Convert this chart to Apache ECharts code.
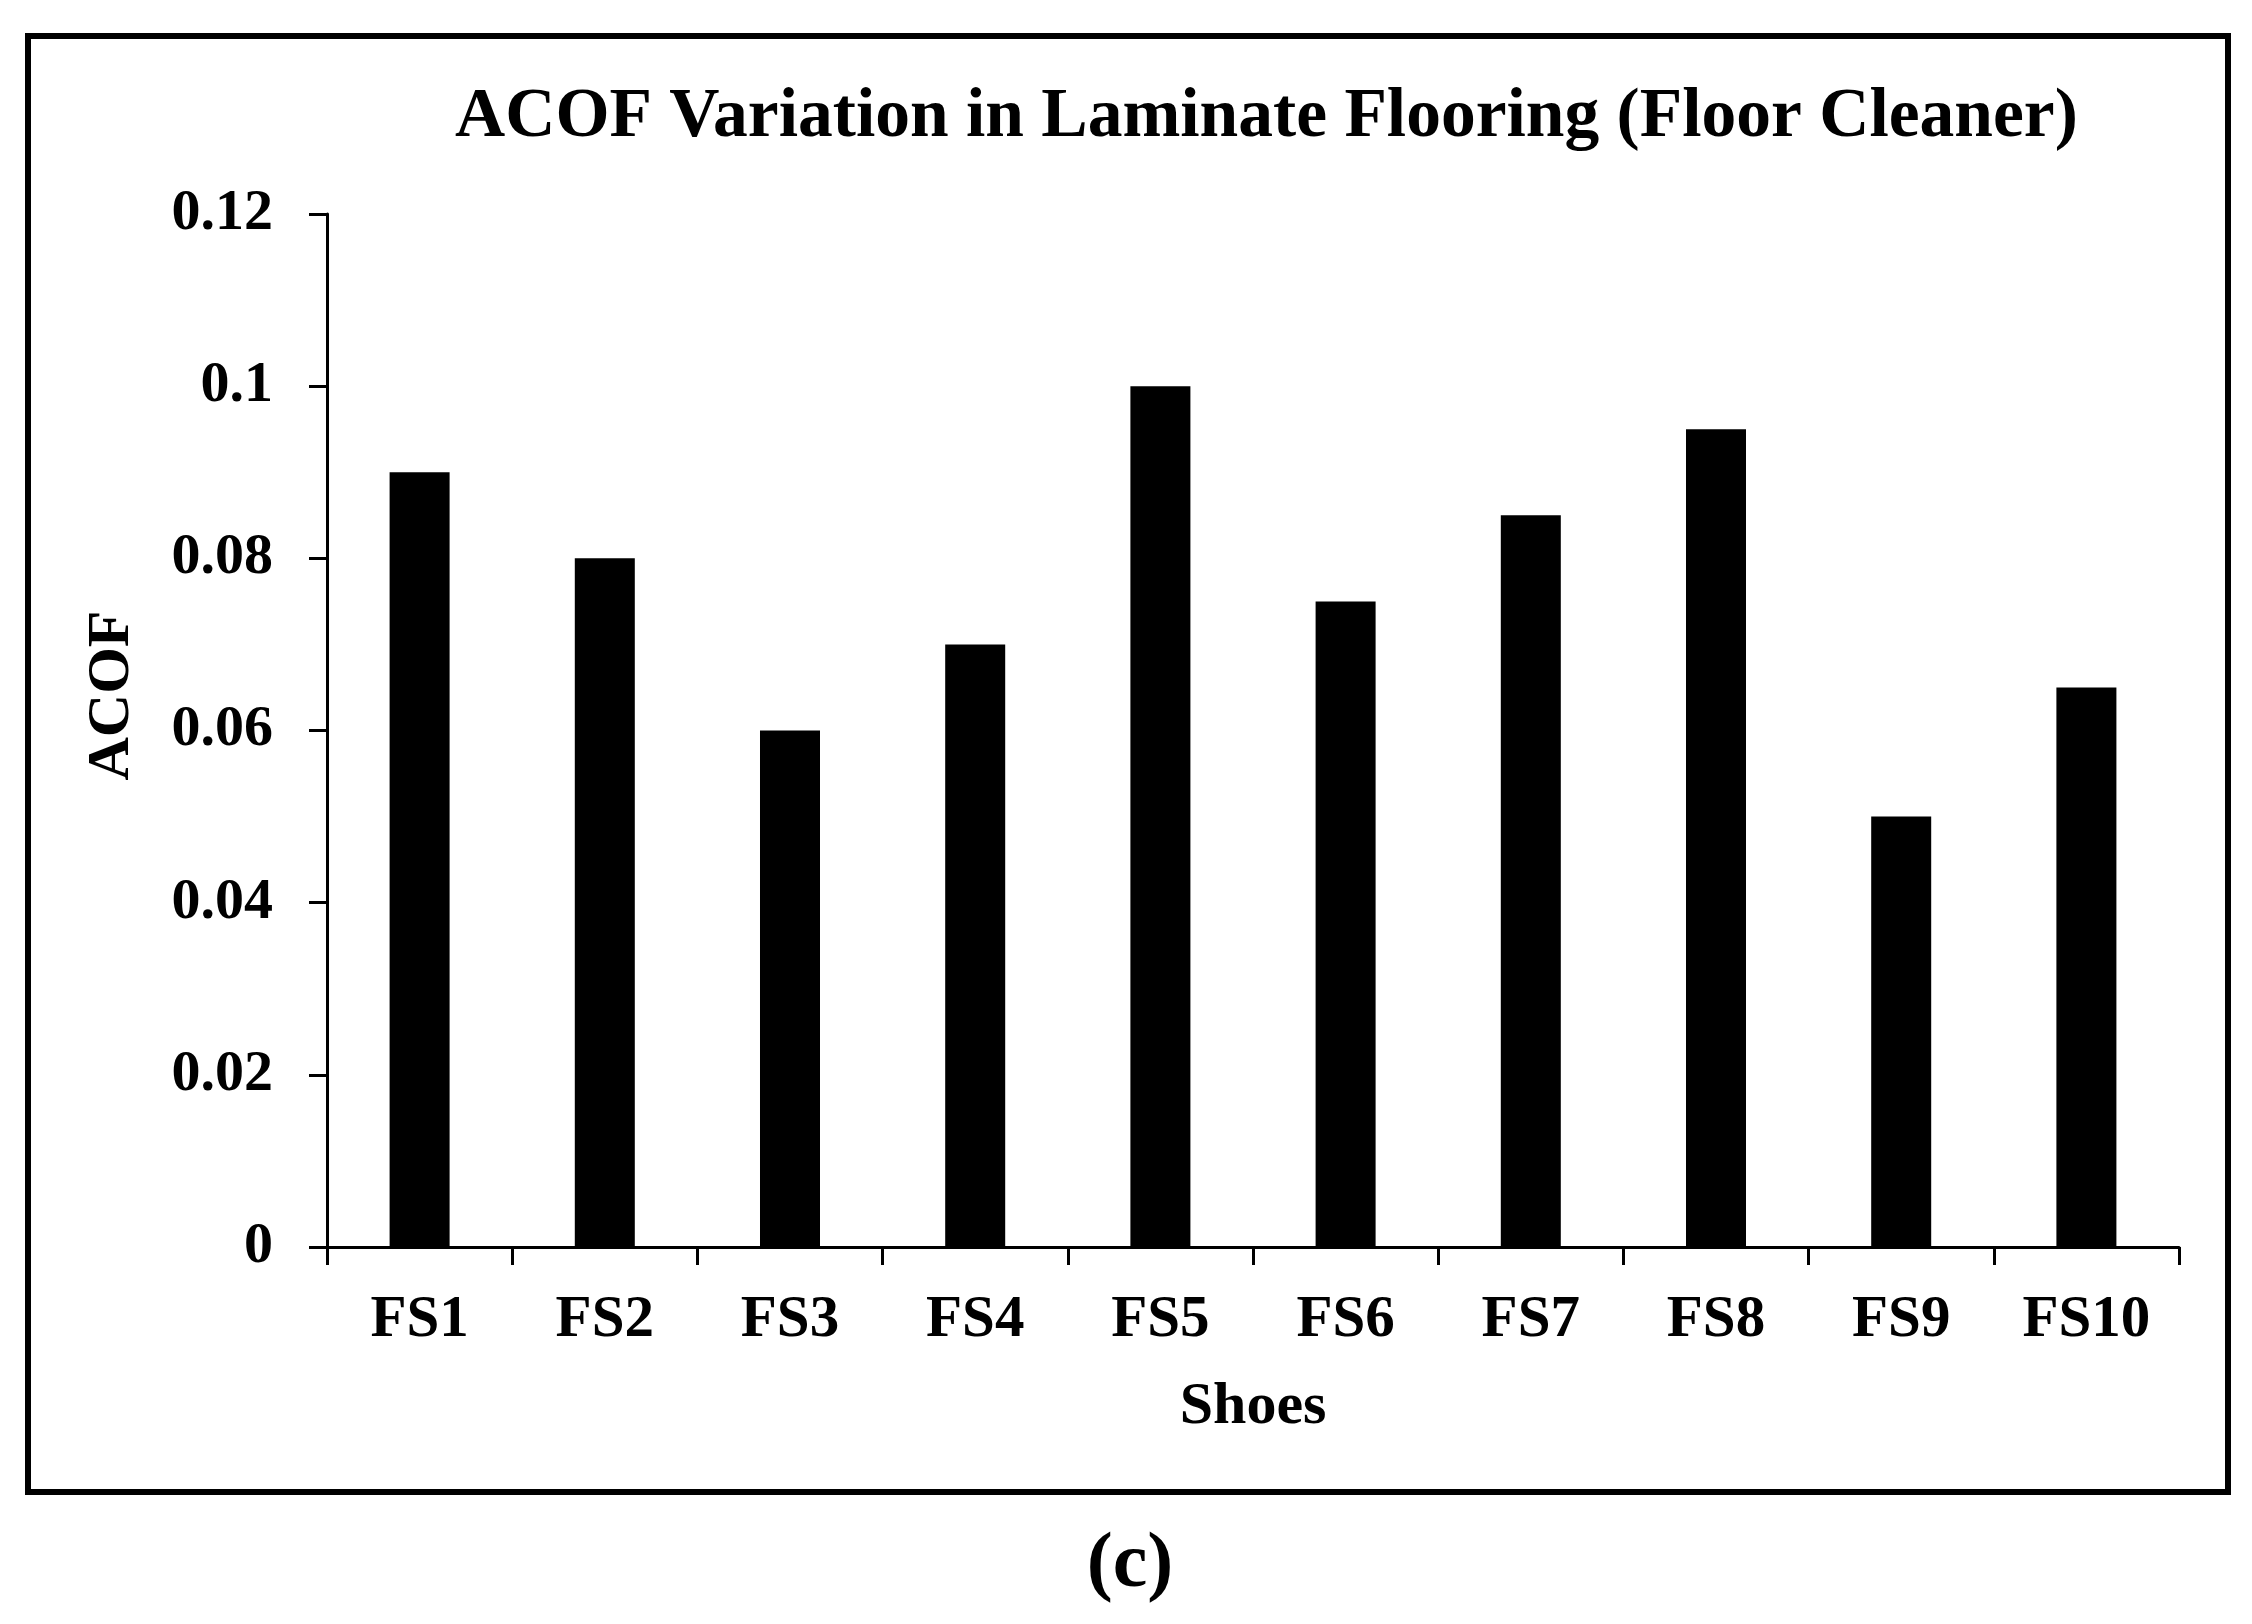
<!DOCTYPE html>
<html>
<head>
<meta charset="utf-8">
<script src="https://cdn.jsdelivr.net/npm/echarts@6/dist/echarts.min.js"></script>
<style>
html,body{margin:0;padding:0;background:#fff;}
#chart{width:2252px;height:1624px;}
</style>
</head>
<body>
<div id="chart"></div>
<script>
const categories = ['FS1','FS2','FS3','FS4','FS5','FS6','FS7','FS8','FS9','FS10'];
const acofValues = [0.09, 0.08, 0.06, 0.07, 0.1, 0.075, 0.085, 0.095, 0.05, 0.065];
const titleText = 'ACOF Variation in Laminate Flooring (Floor Cleaner)';
const xAxisName = 'Shoes';
const yAxisName = 'ACOF';
const panelLabel = '(c)';

const FONT = '"Liberation Serif", "Times New Roman", serif';
const chart = echarts.init(document.getElementById('chart'));
chart.setOption({
  backgroundColor: '#fff',
  animation: false,
  title: {
    text: titleText,
    left: 450,
    top: 78,
    textStyle: { fontFamily: FONT, fontWeight: 'bold', fontSize: 69.5, color: '#000' }
  },
  grid: { left: 327, right: 73, top: 214, bottom: 377, containLabel: false },
  xAxis: {
    type: 'category',
    data: categories,
    name: xAxisName,
    nameLocation: 'middle',
    nameGap: 130,
    nameTextStyle: { fontFamily: FONT, fontWeight: 'bold', fontSize: 60, color: '#000' },
    axisLine: { show: true, lineStyle: { color: '#000', width: 3 } },
    axisTick: { show: true, length: 18, lineStyle: { color: '#000', width: 3 } },
    axisLabel: { fontFamily: FONT, fontWeight: 'bold', fontSize: 59, color: '#000', margin: 44 },
    splitLine: { show: false }
  },
  yAxis: {
    type: 'value',
    min: 0,
    max: 0.12,
    interval: 0.02,
    name: yAxisName,
    nameLocation: 'middle',
    nameRotate: 90,
    nameGap: 185,
    nameTextStyle: { fontFamily: FONT, fontWeight: 'bold', fontSize: 60, color: '#000', padding: [0, 0, 0, 70] },
    axisLine: { show: true, lineStyle: { color: '#000', width: 3 } },
    axisTick: { show: true, length: 18, lineStyle: { color: '#000', width: 3 } },
    axisLabel: { fontFamily: FONT, fontWeight: 'bold', fontSize: 58, color: '#000', margin: 54 },
    splitLine: { show: false }
  },
  series: [{
    type: 'bar',
    data: acofValues,
    barWidth: '32.4%',
    itemStyle: { color: '#000' }
  }],
  graphic: [
    {
      type: 'rect',
      shape: { x: 28, y: 36, width: 2200, height: 1456 },
      style: { fill: 'none', stroke: '#000', lineWidth: 6 },
      silent: true
    },
    {
      type: 'text',
      x: 1130,
      y: 1566,
      style: {
        text: panelLabel,
        fontFamily: FONT,
        fontWeight: 'bold',
        fontSize: 78,
        fill: '#000',
        align: 'center',
        verticalAlign: 'middle'
      }
    }
  ]
});
</script>
</body>
</html>
